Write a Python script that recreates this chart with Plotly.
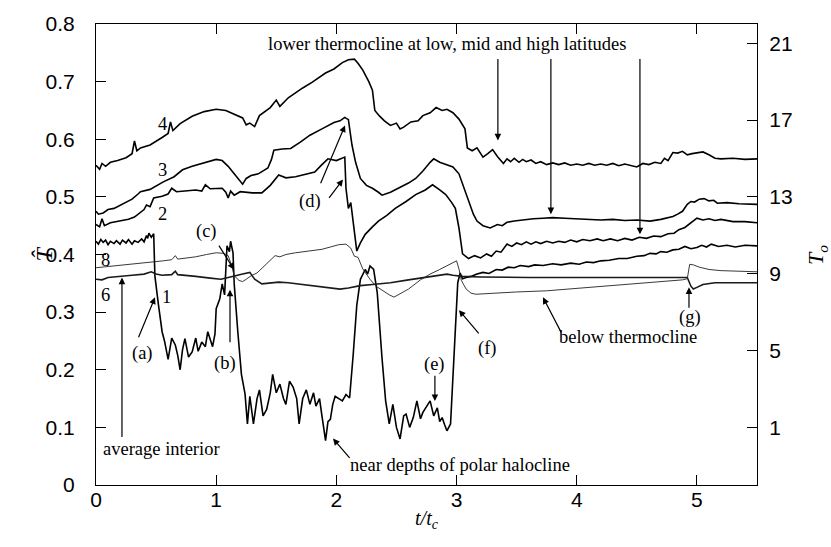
import plotly.graph_objects as go

# ---------------- data ----------------
t4 = [0.00,0.03,0.05,0.08,0.12,0.18,0.25,0.30,0.32,0.34,0.37,0.45,0.55,0.60,0.62,0.64,0.70,0.80,0.90,1.00,
      1.08,1.15,1.22,1.25,1.28,1.32,1.36,1.45,1.50,1.53,1.60,1.72,1.80,1.91,1.98,2.05,2.10,2.15,2.18,2.22,
      2.27,2.30,2.32,2.36,2.40,2.45,2.50,2.53,2.56,2.62,2.68,2.72,2.78,2.83,2.88,2.92,2.97,3.02,3.07,3.09,
      3.13,3.17,3.22,3.26,3.30,3.34,3.39,3.42,3.45,3.48,3.52,3.55,3.58,3.62,3.66,3.70,3.75,3.80,3.85,3.90,
      3.95,4.00,4.05,4.10,4.15,4.20,4.25,4.30,4.35,4.40,4.45,4.50,4.55,4.60,4.65,4.70,4.73,4.76,4.80,4.84,
      4.88,4.92,4.96,5.00,5.05,5.10,5.15,5.20,5.30,5.40,5.50]
T4 = [0.555,0.548,0.558,0.553,0.560,0.563,0.568,0.575,0.597,0.580,0.585,0.590,0.603,0.610,0.630,0.615,0.627,0.640,0.648,0.652,
      0.650,0.643,0.637,0.625,0.628,0.622,0.641,0.655,0.668,0.657,0.672,0.689,0.699,0.715,0.722,0.733,0.738,0.739,0.732,0.720,
      0.700,0.685,0.650,0.640,0.632,0.624,0.628,0.618,0.621,0.630,0.632,0.641,0.646,0.655,0.650,0.652,0.646,0.635,0.618,0.585,
      0.580,0.585,0.569,0.575,0.582,0.570,0.558,0.566,0.561,0.567,0.560,0.565,0.561,0.564,0.558,0.561,0.556,0.559,0.556,0.559,
      0.555,0.557,0.555,0.558,0.555,0.557,0.555,0.558,0.554,0.557,0.554,0.552,0.558,0.556,0.560,0.558,0.567,0.563,0.577,0.576,
      0.579,0.573,0.575,0.576,0.578,0.573,0.567,0.566,0.567,0.565,0.566]

t3 = [0.00,0.02,0.06,0.10,0.15,0.23,0.30,0.35,0.37,0.45,0.56,0.65,0.72,0.80,0.92,1.00,1.05,1.10,1.15,1.20,
      1.22,1.25,1.29,1.35,1.43,1.46,1.48,1.55,1.62,1.70,1.78,1.88,1.98,2.03,2.07,2.10,2.13,2.16,2.20,2.25,
      2.30,2.35,2.38,2.45,2.52,2.60,2.66,2.72,2.78,2.81,2.86,2.92,2.97,3.02,3.07,3.10,3.14,3.17,3.22,3.28,
      3.34,3.38,3.42,3.48,3.55,3.64,3.72,3.80,3.90,4.00,4.11,4.20,4.30,4.40,4.50,4.61,4.70,4.75,4.80,4.84,
      4.88,4.92,4.95,4.98,5.02,5.06,5.10,5.14,5.17,5.25,5.35,5.50]
T3 = [0.475,0.470,0.472,0.478,0.480,0.489,0.496,0.505,0.509,0.513,0.526,0.535,0.547,0.553,0.561,0.565,0.563,0.553,0.540,0.526,
      0.522,0.532,0.537,0.540,0.550,0.565,0.581,0.583,0.584,0.595,0.607,0.618,0.629,0.632,0.638,0.634,0.590,0.560,0.532,0.520,
      0.515,0.508,0.503,0.508,0.515,0.524,0.532,0.545,0.560,0.566,0.560,0.555,0.552,0.540,0.510,0.492,0.470,0.458,0.450,0.446,
      0.452,0.450,0.456,0.458,0.460,0.462,0.463,0.464,0.463,0.462,0.461,0.460,0.461,0.459,0.460,0.458,0.461,0.464,0.466,0.470,
      0.475,0.487,0.492,0.491,0.496,0.497,0.493,0.494,0.489,0.490,0.488,0.487]

t2 = [0.00,0.03,0.05,0.07,0.12,0.20,0.27,0.32,0.36,0.40,0.42,0.45,0.48,0.55,0.60,0.63,0.67,0.75,0.83,0.88,
      0.91,0.95,1.05,1.08,1.10,1.12,1.15,1.20,1.30,1.38,1.45,1.52,1.58,1.66,1.75,1.82,1.88,1.93,2.00,2.04,
      2.07,2.08,2.10,2.12,2.14,2.17,2.20,2.24,2.30,2.35,2.42,2.49,2.58,2.66,2.74,2.80,2.86,2.91,2.96,2.99,
      3.02,3.05,3.10,3.15,3.20,3.25,3.29,3.33,3.37,3.42,3.46,3.50,3.54,3.58,3.62,3.66,3.70,3.75,3.80,3.85,
      3.90,3.95,4.00,4.05,4.11,4.17,4.22,4.28,4.34,4.40,4.46,4.52,4.58,4.64,4.70,4.76,4.81,4.85,4.90,4.95,
      5.00,5.05,5.10,5.15,5.20,5.30,5.40,5.50]
T2 = [0.452,0.448,0.462,0.450,0.455,0.458,0.461,0.465,0.472,0.478,0.486,0.483,0.498,0.501,0.505,0.515,0.509,0.511,0.512,0.510,
      0.521,0.514,0.515,0.508,0.498,0.510,0.503,0.509,0.507,0.507,0.520,0.538,0.533,0.535,0.540,0.543,0.556,0.566,0.563,0.566,
      0.569,0.515,0.480,0.490,0.458,0.406,0.420,0.435,0.448,0.458,0.468,0.480,0.492,0.504,0.512,0.521,0.512,0.504,0.490,0.480,
      0.446,0.401,0.393,0.398,0.394,0.401,0.397,0.406,0.404,0.418,0.414,0.420,0.417,0.422,0.418,0.422,0.419,0.423,0.420,0.423,
      0.421,0.425,0.422,0.426,0.424,0.427,0.424,0.427,0.424,0.428,0.425,0.430,0.428,0.432,0.431,0.436,0.437,0.443,0.447,0.455,
      0.463,0.460,0.462,0.459,0.461,0.457,0.457,0.455]

t1 = [0.00,0.02,0.04,0.06,0.08,0.10,0.12,0.15,0.17,0.20,0.22,0.25,0.27,0.30,0.32,0.35,0.38,0.40,0.42,0.43,
      0.44,0.46,0.48,0.49,0.52,0.55,0.57,0.60,0.63,0.66,0.68,0.70,0.72,0.74,0.77,0.80,0.83,0.85,0.88,0.91,
      0.93,0.97,0.99,1.00,1.03,1.05,1.07,1.09,1.11,1.12,1.14,1.15,1.18,1.21,1.24,1.26,1.28,1.31,1.34,1.36,
      1.39,1.42,1.45,1.47,1.50,1.53,1.56,1.58,1.61,1.64,1.67,1.69,1.72,1.75,1.78,1.81,1.83,1.86,1.88,1.91,
      1.93,1.95,1.97,1.99,2.02,2.05,2.08,2.11,2.14,2.17,2.20,2.24,2.26,2.28,2.31,2.34,2.38,2.41,2.44,2.47,
      2.50,2.53,2.56,2.58,2.61,2.64,2.67,2.70,2.72,2.75,2.78,2.81,2.84,2.86,2.88,2.90,2.92,2.95,2.96,2.97,
      2.99,3.00,3.01,3.03,3.05,3.08,3.12,3.17,3.22,3.27,3.33,3.38,3.43,3.48,3.53,3.60,3.65,3.72,3.80,3.87,
      3.95,4.02,4.08,4.14,4.20,4.27,4.35,4.42,4.50,4.56,4.61,4.66,4.70,4.75,4.80,4.85,4.90,4.95,5.00,5.04,
      5.08,5.12,5.18,5.25,5.32,5.40,5.50]
T1 = [0.423,0.418,0.426,0.421,0.425,0.417,0.423,0.419,0.424,0.418,0.425,0.420,0.426,0.418,0.424,0.421,0.427,0.422,0.433,0.428,
      0.437,0.430,0.436,0.363,0.312,0.266,0.250,0.218,0.255,0.243,0.225,0.200,0.235,0.254,0.222,0.231,0.255,0.232,0.248,0.240,
      0.266,0.240,0.262,0.306,0.323,0.349,0.330,0.415,0.405,0.423,0.403,0.349,0.266,0.192,0.158,0.106,0.154,0.106,0.150,0.165,
      0.120,0.131,0.160,0.192,0.160,0.175,0.150,0.140,0.180,0.170,0.150,0.106,0.150,0.165,0.140,0.160,0.137,0.150,0.120,0.077,
      0.110,0.114,0.140,0.154,0.150,0.146,0.157,0.151,0.226,0.312,0.357,0.374,0.366,0.380,0.374,0.334,0.220,0.146,0.106,0.140,
      0.100,0.080,0.120,0.123,0.100,0.117,0.146,0.115,0.126,0.135,0.146,0.120,0.134,0.110,0.117,0.105,0.094,0.106,0.151,0.191,
      0.266,0.334,0.351,0.368,0.358,0.360,0.362,0.366,0.369,0.367,0.374,0.373,0.378,0.377,0.381,0.379,0.382,0.381,0.384,0.382,
      0.385,0.383,0.387,0.386,0.389,0.390,0.393,0.393,0.397,0.398,0.402,0.401,0.405,0.404,0.408,0.409,0.414,0.410,0.412,0.416,
      0.413,0.418,0.414,0.416,0.413,0.416,0.415]

t6 = [0.00,0.05,0.10,0.22,0.30,0.40,0.46,0.50,0.55,0.63,0.66,0.68,0.75,0.83,0.95,1.04,1.10,1.15,1.22,1.28,
      1.30,1.32,1.38,1.45,1.52,1.60,1.68,1.80,1.90,2.03,2.10,2.20,2.30,2.45,2.60,2.72,2.85,2.92,2.97,3.05,
      3.20,3.40,3.60,3.80,4.00,4.30,4.60,4.85,4.92,4.95,4.97,5.00,5.05,5.15,5.30,5.50]
T6 = [0.357,0.356,0.360,0.363,0.364,0.366,0.370,0.366,0.364,0.365,0.371,0.365,0.363,0.362,0.359,0.357,0.360,0.363,0.366,0.369,
      0.362,0.357,0.349,0.350,0.352,0.351,0.349,0.346,0.343,0.340,0.342,0.346,0.348,0.351,0.356,0.360,0.364,0.366,0.364,0.362,
      0.361,0.360,0.360,0.360,0.360,0.360,0.360,0.360,0.360,0.345,0.340,0.343,0.348,0.351,0.351,0.351]

t8 = [0.00,0.10,0.20,0.28,0.40,0.50,0.56,0.63,0.66,0.68,0.75,0.83,0.92,1.00,1.06,1.10,1.13,1.15,1.19,1.22,
      1.25,1.29,1.34,1.38,1.44,1.49,1.53,1.58,1.66,1.75,1.88,1.95,2.02,2.08,2.12,2.15,2.18,2.22,2.28,2.33,
      2.38,2.44,2.48,2.53,2.60,2.70,2.78,2.86,2.92,2.97,3.00,3.02,3.04,3.08,3.12,3.16,3.30,3.50,3.75,4.00,
      4.25,4.50,4.75,4.88,4.92,4.94,4.97,5.02,5.10,5.20,5.35,5.50]
T8 = [0.377,0.379,0.381,0.383,0.386,0.388,0.389,0.391,0.398,0.392,0.394,0.396,0.400,0.403,0.402,0.398,0.380,0.363,0.355,0.353,
      0.357,0.363,0.368,0.376,0.388,0.398,0.396,0.400,0.403,0.405,0.409,0.413,0.417,0.418,0.411,0.397,0.395,0.375,0.357,0.345,
      0.338,0.330,0.326,0.332,0.340,0.356,0.366,0.374,0.380,0.386,0.389,0.375,0.355,0.340,0.333,0.331,0.333,0.335,0.337,0.341,
      0.345,0.349,0.353,0.356,0.358,0.383,0.382,0.378,0.374,0.372,0.371,0.370]

x_ticks = [0, 1, 2, 3, 4, 5]
y_ticks = [0, 0.1, 0.2, 0.3, 0.4, 0.5, 0.6, 0.7, 0.8]
y_ticktext = ["0", "0.1", "0.2", "0.3", "0.4", "0.5", "0.6", "0.7", "0.8"]
y2_ticks = [1, 5, 9, 13, 17, 21]

# ---------------- figure ----------------
SERIF = "Liberation Serif"
SANS = "Liberation Sans"

fig = go.Figure()
series = [(t4, T4, "4", 1.6, "#000"), (t3, T3, "3", 1.6, "#000"), (t2, T2, "2", 1.6, "#000"),
          (t1, T1, "1", 1.6, "#000"), (t6, T6, "6", 1.6, "#1a1a1a"), (t8, T8, "8", 0.9, "#222")]
for tx, ty, name, w, c in series:
    fig.add_trace(go.Scatter(x=tx, y=ty, mode="lines", name=name,
                             line=dict(color=c, width=w), showlegend=False))

fig.add_trace(go.Scatter(x=[], y=[], yaxis="y2", showlegend=False))

ann = []
def label(x, y, text, size=18.5):
    ann.append(dict(x=x, y=y, xref="x", yref="y", text=text, showarrow=False,
                    font=dict(family=SERIF, size=size, color="#000")))

def arrow(x0, y0, x1, y1):
    ann.append(dict(x=x1, y=y1, ax=x0, ay=y0, xref="x", yref="y", axref="x", ayref="y",
                    text="", showarrow=True, arrowhead=2, arrowsize=1.1, arrowwidth=1.2,
                    arrowcolor="#000", standoff=0, startstandoff=0))

label(2.92, 0.766, "lower thermocline at low, mid and high latitudes")
arrow(3.344, 0.742, 3.344, 0.598)
arrow(3.785, 0.742, 3.785, 0.470)
arrow(4.526, 0.742, 4.526, 0.435)

label(0.557, 0.627, "4")
label(0.557, 0.547, "3")
label(0.557, 0.471, "2")
label(0.075, 0.391, "8")
label(0.075, 0.329, "6")
label(0.59, 0.326, "1")

label(1.78, 0.492, "(d)")
arrow(1.864, 0.521, 2.072, 0.624)
arrow(1.93, 0.4955, 2.055, 0.530)

label(0.923, 0.4406, "(c)")
arrow(1.015, 0.418, 1.148, 0.374)

label(0.383, 0.228, "(a)")
arrow(0.349, 0.2537, 0.491, 0.3257)

label(1.073, 0.211, "(b)")
arrow(1.115, 0.245, 1.115, 0.339)

label(0.541, 0.063, "average interior")
arrow(0.216, 0.0806, 0.216, 0.360)

label(3.028, 0.0343, "near depths of polar halocline")
arrow(2.121, 0.0446, 1.972, 0.0806)

label(2.82, 0.209, "(e)")
arrow(2.82, 0.192, 2.82, 0.1457)

label(3.253, 0.2366, "(f)")
arrow(3.195, 0.2606, 3.02, 0.3034)

label(4.426, 0.257, "below thermocline")
arrow(3.877, 0.2623, 3.719, 0.3257)

label(4.942, 0.2914, "(g)")
arrow(4.934, 0.305, 4.934, 0.343)

# axis titles (rotated, as in the reference)
ann.append(dict(x=-0.080, y=0.50, xref="paper", yref="paper", xanchor="center", yanchor="middle",
                text="<i>T̂</i>", showarrow=False, textangle=-90,
                font=dict(family=SERIF, size=24, color="#000")))
ann.append(dict(x=1.090, y=0.50, xref="paper", yref="paper", xanchor="center", yanchor="middle",
                text="<i>T<sub>o</sub></i>", showarrow=False, textangle=-90,
                font=dict(family=SERIF, size=22, color="#000")))

axis_common = dict(showline=True, linecolor="#000", linewidth=1.2, ticks="inside", ticklen=10,
                   tickcolor="#000", tickwidth=1, showgrid=False, zeroline=False,
                   tickfont=dict(family=SANS, size=21, color="#000"))

fig.update_layout(
    width=831, height=547,
    margin=dict(l=96, r=74, t=18, b=62),
    plot_bgcolor="#fff", paper_bgcolor="#fff",
    xaxis=dict(range=[0, 5.5], tickvals=x_ticks, ticktext=[str(v) for v in x_ticks], mirror="ticks",
               title=dict(text="<i>t/t<sub>c</sub></i>", font=dict(family=SERIF, size=20, color="#000"), standoff=0),
               ticklabelstandoff=-4, **axis_common),
    yaxis=dict(range=[0, 0.8], tickvals=y_ticks, ticktext=y_ticktext,
               ticklabelstandoff=16, **axis_common),
    yaxis2=dict(range=[-2, 22], tickvals=y2_ticks, ticktext=[str(v) for v in y2_ticks], overlaying="y", side="right",
                ticklabelstandoff=7, **axis_common),
    annotations=ann,
)

fig.write_html("out.html")
